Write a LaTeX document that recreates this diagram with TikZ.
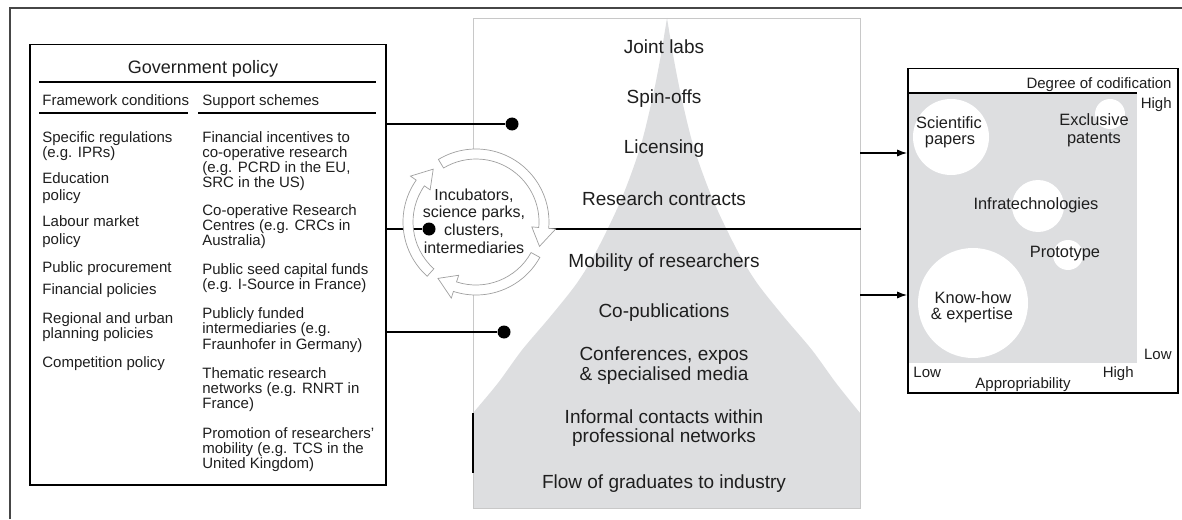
\documentclass[tikz,border=0pt]{standalone}
\usepackage{fontspec}
\setmainfont{Liberation Sans}
\usetikzlibrary{arrows.meta}
\definecolor{pgray}{RGB}{221,222,224}
\definecolor{pline}{RGB}{200,200,200}
\definecolor{rline}{RGB}{160,160,160}
\definecolor{tcol}{RGB}{30,30,30}
\definecolor{fcol}{RGB}{70,70,70}
\newcounter{tl}
\newcommand\tlin[4]{\stepcounter{tl}\node[#1] (t\arabic{tl}) at (#2,#3) {#4};}
\newcommand\cseg[2]{\filldraw[ringst] (#1:73) arc[start angle=#1,end angle=#2,radius=73] -- (#2:80) -- ({#2-16}:68) -- (#2:56) -- (#2:63) arc[start angle=#2,end angle=#1,radius=63] -- cycle;}
\begin{document}
\begin{tikzpicture}[x=0.5pt,y=-0.5pt,
 txt/.style={inner sep=0, text=tcol, font=\fontsize{7.5}{7.5}\selectfont},
 lt/.style={txt, anchor=mid west},
 ct/.style={inner sep=0, text=tcol, font=\fontsize{9.5}{9.5}\selectfont, anchor=mid},
 rt/.style={inner sep=0, text=tcol, font=\fontsize{8}{8}\selectfont, anchor=mid},
 bt/.style={inner sep=0, text=tcol, font=\fontsize{8.2}{8.2}\selectfont, anchor=mid},
 box/.style={draw=black, line width=0.75pt, inner sep=0, anchor=north west},
 conn/.style={draw=black, line width=0.55pt},
 arr/.style={conn, -{Latex[length=5pt,width=3.6pt]}},
 dot/.style={circle, fill=black, inner sep=0, minimum size=6.5pt},
 ringst/.style={fill=white, draw=rline, line width=0.35pt, line join=miter}
]
\useasboundingbox (0,0) rectangle (1182,519);
% outer frame
\draw[fcol, line width=0.8pt] (10,519) -- (10,8) -- (1182,8);
% central gray shape
\fill[pgray] plot[smooth, tension=0.5] coordinates {(473,413) (498,383) (522,350) (550,317) (577,283) (597,250) (621,200) (640,148) (652,100) (660,60) (667,18)}
  -- plot[smooth, tension=0.5] coordinates {(667,18) (674,60) (682,100) (694,148) (713,200) (737,250) (757,283) (784,317) (812,350) (836,383) (860,413)}
  -- (860,508) -- (473,508) -- cycle;
\node[draw=pline, line width=0.5pt, inner sep=0, anchor=north west, minimum width=193.5pt, minimum height=245pt] (panel) at (473,18) {};
\draw[black, line width=0.6pt] (473,413) -- (473,473);
% white disk behind the cycle
\fill[white] (476,222) circle[radius=73];
% government policy box
\node[box, minimum width=178pt, minimum height=220pt] (gov) at (29,44) {};
\draw[black, line width=0.6pt] (39,82) -- (376,82);
\draw[black, line width=0.6pt] (39,113) -- (188,113);
\draw[black, line width=0.6pt] (198,113) -- (376,113);
% dots and connectors
\node[dot] (d1) at (512,124) {};
\node[dot] (d2) at (429,229) {};
\node[dot] (d3) at (504,332) {};
\draw[conn] (gov.east |- d1) -- (d1);
\draw[conn] (gov.east |- d2) -- (d2);
\draw[conn] (gov.east |- d3) -- (d3);
\coordinate (ringR) at (550,229);
\draw[conn] (ringR) -- (panel.east |- ringR);
% cycle arrows
\begin{scope}[shift={(476,222)}, x=0.5pt, y=0.5pt]
\cseg{228}{145}
\cseg{121}{-5}
\cseg{-29}{-108}
\end{scope}
% right box
\fill[pgray] (908,93) rectangle (1137,363);
\fill[white] (951,137) circle[radius=38];
\fill[white] (1110,114) circle[radius=15];
\fill[white] (1038,206) circle[radius=26];
\fill[white] (1068,255) circle[radius=15];
\fill[white] (973,303) circle[radius=55];
\node[box, minimum width=135pt, minimum height=162pt] (codif) at (907,68) {};
\draw[black, line width=0.6pt] (907,93) -- (1137,93);
\coordinate (a1) at (860,153);
\coordinate (a2) at (860,295);
\draw[arr] (a1) -- (codif.west |- a1);
\draw[arr] (a2) -- (codif.west |- a2);
% texts: government policy
\tlin{txt, anchor=mid, font=\fontsize{9}{9}\selectfont}{203}{68}{Government policy}
\tlin{lt}{42}{100}{Framework conditions}
\tlin{lt}{202}{100}{Support schemes}
\tlin{lt}{42}{137}{Specific regulations}
\tlin{lt}{42}{152}{(e.g. IPRs)}
\tlin{lt}{42}{178}{Education}
\tlin{lt}{42}{195}{policy}
\tlin{lt}{42}{221}{Labour market}
\tlin{lt}{42}{239}{policy}
\tlin{lt}{42}{267}{Public procurement}
\tlin{lt}{42}{289}{Financial policies}
\tlin{lt}{42}{318}{Regional and urban}
\tlin{lt}{42}{333}{planning policies}
\tlin{lt}{42}{362}{Competition policy}
\tlin{lt}{202}{137}{Financial incentives to}
\tlin{lt}{202}{152}{co-operative research}
\tlin{lt}{202}{167}{(e.g. PCRD in the EU,}
\tlin{lt}{202}{182}{SRC in the US)}
\tlin{lt}{202}{210}{Co-operative Research}
\tlin{lt}{202}{225}{Centres (e.g. CRCs in}
\tlin{lt}{202}{240}{Australia)}
\tlin{lt}{202}{269}{Public seed capital funds}
\tlin{lt}{202}{284}{(e.g. I-Source in France)}
\tlin{lt}{202}{313}{Publicly funded}
\tlin{lt}{202}{328}{intermediaries (e.g.}
\tlin{lt}{202}{344}{Fraunhofer in Germany)}
\tlin{lt}{202}{373}{Thematic research}
\tlin{lt}{202}{388}{networks (e.g. RNRT in}
\tlin{lt}{202}{403}{France)}
\tlin{lt}{202}{433}{Promotion of researchers'}
\tlin{lt}{202}{448}{mobility (e.g. TCS in the}
\tlin{lt}{202}{463}{United Kingdom)}
% texts: central panel
\tlin{ct}{664}{48}{Joint labs}
\tlin{ct}{664}{98}{Spin-offs}
\tlin{ct}{664}{148}{Licensing}
\tlin{ct}{664}{200}{Research contracts}
\tlin{ct}{664}{262}{Mobility of researchers}
\tlin{ct}{664}{312}{Co-publications}
\tlin{ct}{664}{355}{Conferences, expos}
\tlin{ct}{664}{375}{\& specialised media}
\tlin{ct}{664}{418}{Informal contacts within}
\tlin{ct}{664}{437}{professional networks}
\tlin{ct}{664}{483}{Flow of graduates to industry}
% texts: cycle
\tlin{rt}{474}{195}{Incubators,}
\tlin{rt}{474}{212}{science parks,}
\tlin{rt}{474}{230}{clusters,}
\tlin{rt}{474}{248}{intermediaries}
% texts: right box
\tlin{txt, anchor=mid east}{1172}{83}{Degree of codification}
\tlin{txt, anchor=mid east}{1172}{103}{High}
\tlin{txt, anchor=mid east}{1172}{354}{Low}
\tlin{txt, anchor=mid west}{913}{372}{Low}
\tlin{txt, anchor=mid east}{1134}{372}{High}
\tlin{txt, anchor=mid}{1023}{383}{Appropriability}
\tlin{bt}{949}{123}{Scientific}
\tlin{bt}{950}{139}{papers}
\tlin{bt}{1094}{120}{Exclusive}
\tlin{bt}{1094}{138}{patents}
\tlin{bt}{1036}{204}{Infratechnologies}
\tlin{bt}{1065}{252}{Prototype}
\tlin{bt}{973}{298}{Know-how}
\tlin{bt}{972}{314}{\& expertise}
\end{tikzpicture}
\end{document}
